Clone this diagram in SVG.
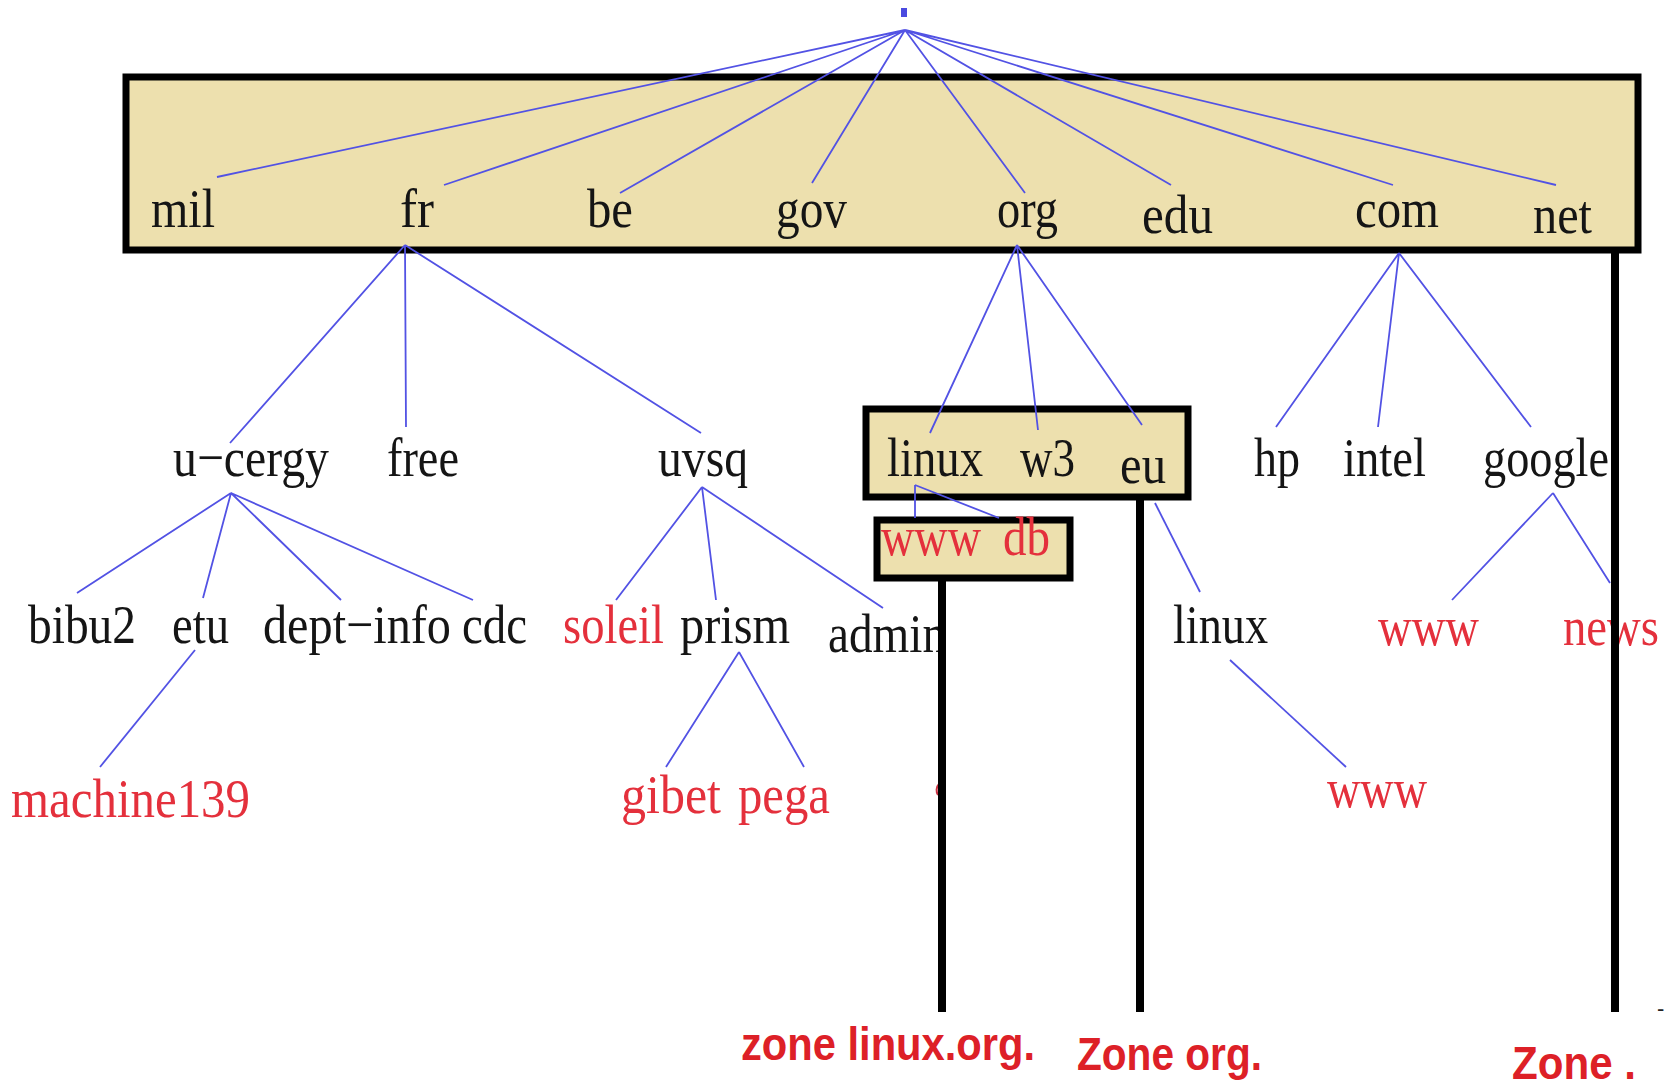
<svg xmlns="http://www.w3.org/2000/svg" width="1677" height="1089" viewBox="0 0 1677 1089">
<style>
.t{font-family:"Liberation Serif","Times New Roman",serif;font-size:55px;fill:#151515}
.r{fill:#e4303c}
.z{font-family:"Liberation Sans",Arial,sans-serif;font-weight:bold;font-size:46px;fill:#dd2027}
.zone{fill:#ede0ae;stroke:#000;stroke-width:7}
.bar{stroke:#000;stroke-width:8;fill:none}
.e{stroke:#5252e4;stroke-width:1.8;fill:none}
</style>
<rect width="1677" height="1089" fill="#fff"/>
<g id="zones">
<rect id="zone-root" class="zone" x="126" y="77" width="1512" height="173"/>
<rect id="zone-org" class="zone" x="866" y="409" width="322" height="88"/>
<rect id="zone-linux" class="zone" x="877" y="520" width="193" height="58"/>
</g>
<g id="connectors">
<path class="e" d="M905 30L217 177M905 30L444 185M905 30L620 193M905 30L812 183M905 30L1025 193M905 30L1171 185M905 30L1393 185M905 30L1556 185"/>
<path class="e" d="M405 245L230 443M405 245L406 427M405 245L701 433"/>
<path class="e" d="M231 493L77 593M231 493L203 598M231 493L341 600M231 493L473 600"/>
<path class="e" d="M195 650L100 767"/>
<path class="e" d="M702 487L616 600M702 487L716 600M702 487L883 608"/>
<path class="e" d="M739 652L666 767M739 652L804 767"/>
<path class="e" d="M1017 245L930 433M1017 245L1038 430M1017 245L1142 425"/>
<path class="e" d="M915 485L915 518M915 485L999 518"/>
<path class="e" d="M1155 503L1200 592"/>
<path class="e" d="M1230 660L1346 767"/>
<path class="e" d="M1399 253L1276 427M1399 253L1378 427M1399 253L1531 427"/>
<path class="e" d="M1553 493L1452 600M1553 493L1610 583"/>
</g>
<g id="root"><rect x="901" y="8" width="6" height="9" fill="#4a4ae0"/></g>
<g id="tld">
<text id="mil" class="t" x="151" y="227" textLength="64" lengthAdjust="spacingAndGlyphs">mil</text>
<text id="fr" class="t" x="400" y="227" textLength="34" lengthAdjust="spacingAndGlyphs">fr</text>
<text id="be" class="t" x="587" y="227" textLength="46" lengthAdjust="spacingAndGlyphs">be</text>
<text id="gov" class="t" x="776" y="227" textLength="71" lengthAdjust="spacingAndGlyphs">gov</text>
<text id="org" class="t" x="997" y="227" textLength="61" lengthAdjust="spacingAndGlyphs">org</text>
<text id="edu" class="t" x="1142" y="233" textLength="71" lengthAdjust="spacingAndGlyphs">edu</text>
<text id="com" class="t" x="1355" y="227" textLength="84" lengthAdjust="spacingAndGlyphs">com</text>
<text id="net" class="t" x="1533" y="233" textLength="59" lengthAdjust="spacingAndGlyphs">net</text>
</g>
<g id="level2">
<text id="u-cergy" class="t" x="173" y="476" textLength="156" lengthAdjust="spacingAndGlyphs">u−cergy</text>
<text id="free" class="t" x="387" y="476" textLength="72" lengthAdjust="spacingAndGlyphs">free</text>
<text id="uvsq" class="t" x="658" y="476" textLength="90" lengthAdjust="spacingAndGlyphs">uvsq</text>
<text id="linux" class="t" x="887" y="476" textLength="96" lengthAdjust="spacingAndGlyphs">linux</text>
<text id="w3" class="t" x="1020" y="476" textLength="55" lengthAdjust="spacingAndGlyphs">w3</text>
<text id="eu" class="t" x="1120" y="483" textLength="46" lengthAdjust="spacingAndGlyphs">eu</text>
<text id="hp" class="t" x="1254" y="476" textLength="46" lengthAdjust="spacingAndGlyphs">hp</text>
<text id="intel" class="t" x="1343" y="476" textLength="83" lengthAdjust="spacingAndGlyphs">intel</text>
<text id="google" class="t" x="1483" y="476" textLength="126" lengthAdjust="spacingAndGlyphs">google</text>
</g>
<g id="level3">
<text id="www-linux" class="t r" x="881" y="555" textLength="100" lengthAdjust="spacingAndGlyphs">www</text>
<text id="db" class="t r" x="1003" y="555" textLength="47" lengthAdjust="spacingAndGlyphs">db</text>
<text id="bibu2" class="t" x="28" y="643" textLength="108" lengthAdjust="spacingAndGlyphs">bibu2</text>
<text id="etu" class="t" x="172" y="643" textLength="57" lengthAdjust="spacingAndGlyphs">etu</text>
<text id="dept-info" class="t" x="263" y="643" textLength="188" lengthAdjust="spacingAndGlyphs">dept−info</text>
<text id="cdc" class="t" x="462" y="643" textLength="65" lengthAdjust="spacingAndGlyphs">cdc</text>
<text id="soleil" class="t r" x="563" y="643" textLength="101" lengthAdjust="spacingAndGlyphs">soleil</text>
<text id="prism" class="t" x="680" y="643" textLength="110" lengthAdjust="spacingAndGlyphs">prism</text>
<text id="admin" class="t" x="828" y="652" textLength="118" lengthAdjust="spacingAndGlyphs">admin</text>
<text id="linux-eu" class="t" x="1173" y="643" textLength="95" lengthAdjust="spacingAndGlyphs">linux</text>
<text id="www-google" class="t r" x="1378" y="645" textLength="101" lengthAdjust="spacingAndGlyphs">www</text>
<text id="news" class="t r" x="1563" y="645" textLength="96" lengthAdjust="spacingAndGlyphs">news</text>
</g>
<g id="level4">
<text id="machine139" class="t r" x="11" y="817" textLength="239" lengthAdjust="spacingAndGlyphs">machine139</text>
<text id="gibet" class="t r" x="621" y="813" textLength="100" lengthAdjust="spacingAndGlyphs">gibet</text>
<text id="pega" class="t r" x="738" y="813" textLength="92" lengthAdjust="spacingAndGlyphs">pega</text>
<text id="www-eu" class="t r" x="1327" y="807" textLength="100" lengthAdjust="spacingAndGlyphs">www</text>
</g>
<g id="cuts">
<path d="M939 784C936 787 936 792 938 795" stroke="#c83040" stroke-width="2" fill="none"/>
<line class="bar" x1="942" y1="578" x2="942" y2="1012"/>
<line class="bar" x1="1140" y1="497" x2="1140" y2="1012"/>
<line class="bar" x1="1615" y1="250" x2="1615" y2="1012"/>
<text x="1657" y="1016" font-family="Liberation Sans,Arial,sans-serif" font-size="22" fill="#222">-</text>
</g>
<g id="labels">
<text id="lbl-linux" class="z" x="741" y="1060" textLength="294" lengthAdjust="spacingAndGlyphs">zone linux.org.</text>
<text id="lbl-org" class="z" x="1077" y="1070" textLength="185" lengthAdjust="spacingAndGlyphs">Zone org.</text>
<text id="lbl-root" class="z" x="1512" y="1079" textLength="124" lengthAdjust="spacingAndGlyphs">Zone .</text>
</g>
</svg>
